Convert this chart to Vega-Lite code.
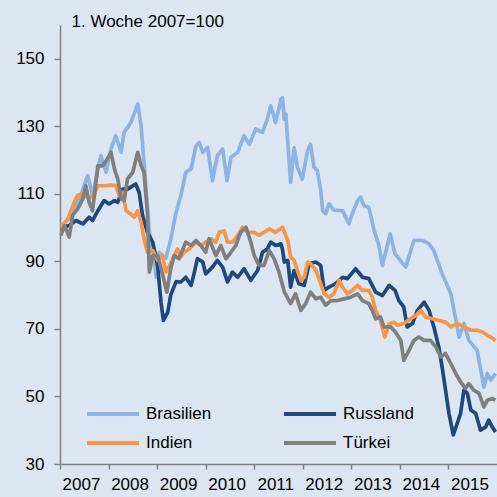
{
"$schema": "https://vega.github.io/schema/vega-lite/v6.json",
"width": 437, "height": 439,
"autosize": "none",
"padding": {"left": 60, "top": 25, "right": 0, "bottom": 33},
"background": "#dce6f2",
"config": {"view": {"stroke": null}, "font": "Liberation Sans"},
"datasets": {
"d": [
{"s":"Brasilien","t":2007.02,"v":100.6},{"s":"Brasilien","t":2007.19,"v":102.6},{"s":"Brasilien","t":2007.43,"v":109.5},{"s":"Brasilien","t":2007.57,"v":115.4},{"s":"Brasilien","t":2007.67,"v":109.5},{"s":"Brasilien","t":2007.84,"v":121.3},{"s":"Brasilien","t":2007.95,"v":116.4},{"s":"Brasilien","t":2008.05,"v":123.3},{"s":"Brasilien","t":2008.15,"v":127.2},{"s":"Brasilien","t":2008.26,"v":122.3},{"s":"Brasilien","t":2008.32,"v":128.2},{"s":"Brasilien","t":2008.46,"v":131.1},{"s":"Brasilien","t":2008.6,"v":136.6},{"s":"Brasilien","t":2008.67,"v":130.1},{"s":"Brasilien","t":2008.73,"v":119.3},{"s":"Brasilien","t":2008.84,"v":98.6},{"s":"Brasilien","t":2008.94,"v":90.9},{"s":"Brasilien","t":2008.98,"v":85.3},{"s":"Brasilien","t":2009.04,"v":92.7},{"s":"Brasilien","t":2009.18,"v":90.9},{"s":"Brasilien","t":2009.28,"v":96.5},{"s":"Brasilien","t":2009.39,"v":104.5},{"s":"Brasilien","t":2009.49,"v":109.5},{"s":"Brasilien","t":2009.59,"v":116.4},{"s":"Brasilien","t":2009.7,"v":117.4},{"s":"Brasilien","t":2009.8,"v":124.2},{"s":"Brasilien","t":2009.87,"v":125.2},{"s":"Brasilien","t":2009.94,"v":122.3},{"s":"Brasilien","t":2010.04,"v":123.7},{"s":"Brasilien","t":2010.14,"v":113.9},{"s":"Brasilien","t":2010.24,"v":121.3},{"s":"Brasilien","t":2010.35,"v":123.3},{"s":"Brasilien","t":2010.44,"v":113.9},{"s":"Brasilien","t":2010.52,"v":120.8},{"s":"Brasilien","t":2010.66,"v":122.3},{"s":"Brasilien","t":2010.79,"v":127.2},{"s":"Brasilien","t":2010.9,"v":124.7},{"s":"Brasilien","t":2011.03,"v":129.2},{"s":"Brasilien","t":2011.17,"v":128.2},{"s":"Brasilien","t":2011.27,"v":132.1},{"s":"Brasilien","t":2011.34,"v":136.1},{"s":"Brasilien","t":2011.44,"v":131.1},{"s":"Brasilien","t":2011.55,"v":138.0},{"s":"Brasilien","t":2011.58,"v":138.5},{"s":"Brasilien","t":2011.62,"v":132.1},{"s":"Brasilien","t":2011.65,"v":133.6},{"s":"Brasilien","t":2011.75,"v":113.4},{"s":"Brasilien","t":2011.82,"v":123.7},{"s":"Brasilien","t":2011.89,"v":117.9},{"s":"Brasilien","t":2011.99,"v":114.4},{"s":"Brasilien","t":2012.1,"v":122.8},{"s":"Brasilien","t":2012.16,"v":124.7},{"s":"Brasilien","t":2012.23,"v":117.9},{"s":"Brasilien","t":2012.3,"v":116.9},{"s":"Brasilien","t":2012.37,"v":111.0},{"s":"Brasilien","t":2012.41,"v":105.0},{"s":"Brasilien","t":2012.47,"v":104.1},{"s":"Brasilien","t":2012.54,"v":107.0},{"s":"Brasilien","t":2012.64,"v":105.2},{"s":"Brasilien","t":2012.82,"v":105.0},{"s":"Brasilien","t":2012.95,"v":101.1},{"s":"Brasilien","t":2013.02,"v":104.1},{"s":"Brasilien","t":2013.13,"v":108.0},{"s":"Brasilien","t":2013.19,"v":109.0},{"s":"Brasilien","t":2013.26,"v":106.5},{"s":"Brasilien","t":2013.36,"v":106.0},{"s":"Brasilien","t":2013.47,"v":99.1},{"s":"Brasilien","t":2013.57,"v":94.7},{"s":"Brasilien","t":2013.64,"v":88.8},{"s":"Brasilien","t":2013.8,"v":98.2},{"s":"Brasilien","t":2013.9,"v":92.2},{"s":"Brasilien","t":2014.12,"v":88.3},{"s":"Brasilien","t":2014.29,"v":96.2},{"s":"Brasilien","t":2014.46,"v":96.2},{"s":"Brasilien","t":2014.6,"v":95.2},{"s":"Brasilien","t":2014.7,"v":93.2},{"s":"Brasilien","t":2014.87,"v":86.3},{"s":"Brasilien","t":2015.05,"v":80.4},{"s":"Brasilien","t":2015.22,"v":67.6},{"s":"Brasilien","t":2015.32,"v":71.6},{"s":"Brasilien","t":2015.42,"v":66.6},{"s":"Brasilien","t":2015.59,"v":63.7},{"s":"Brasilien","t":2015.73,"v":52.8},{"s":"Brasilien","t":2015.8,"v":56.8},{"s":"Brasilien","t":2015.87,"v":54.8},{"s":"Brasilien","t":2015.97,"v":56.8},
{"s":"Russland","t":2007.02,"v":100.1},{"s":"Russland","t":2007.19,"v":100.6},{"s":"Russland","t":2007.33,"v":102.1},{"s":"Russland","t":2007.47,"v":101.1},{"s":"Russland","t":2007.6,"v":103.1},{"s":"Russland","t":2007.67,"v":102.1},{"s":"Russland","t":2007.78,"v":105.0},{"s":"Russland","t":2007.91,"v":108.0},{"s":"Russland","t":2008.01,"v":107.0},{"s":"Russland","t":2008.12,"v":108.0},{"s":"Russland","t":2008.19,"v":107.5},{"s":"Russland","t":2008.29,"v":111.4},{"s":"Russland","t":2008.39,"v":111.4},{"s":"Russland","t":2008.56,"v":112.9},{"s":"Russland","t":2008.63,"v":110.4},{"s":"Russland","t":2008.7,"v":103.6},{"s":"Russland","t":2008.8,"v":98.6},{"s":"Russland","t":2008.91,"v":95.7},{"s":"Russland","t":2009.01,"v":88.8},{"s":"Russland","t":2009.08,"v":77.9},{"s":"Russland","t":2009.13,"v":72.5},{"s":"Russland","t":2009.22,"v":75.0},{"s":"Russland","t":2009.28,"v":80.0},{"s":"Russland","t":2009.39,"v":84.0},{"s":"Russland","t":2009.49,"v":83.9},{"s":"Russland","t":2009.59,"v":85.3},{"s":"Russland","t":2009.7,"v":82.9},{"s":"Russland","t":2009.76,"v":86.3},{"s":"Russland","t":2009.83,"v":90.8},{"s":"Russland","t":2009.94,"v":89.8},{"s":"Russland","t":2010.0,"v":86.3},{"s":"Russland","t":2010.14,"v":88.3},{"s":"Russland","t":2010.24,"v":90.3},{"s":"Russland","t":2010.35,"v":88.3},{"s":"Russland","t":2010.45,"v":83.9},{"s":"Russland","t":2010.55,"v":86.8},{"s":"Russland","t":2010.66,"v":85.3},{"s":"Russland","t":2010.79,"v":87.8},{"s":"Russland","t":2010.93,"v":84.4},{"s":"Russland","t":2011.07,"v":87.3},{"s":"Russland","t":2011.17,"v":92.7},{"s":"Russland","t":2011.27,"v":93.7},{"s":"Russland","t":2011.34,"v":95.7},{"s":"Russland","t":2011.44,"v":94.7},{"s":"Russland","t":2011.55,"v":95.2},{"s":"Russland","t":2011.58,"v":93.7},{"s":"Russland","t":2011.62,"v":89.8},{"s":"Russland","t":2011.69,"v":90.3},{"s":"Russland","t":2011.75,"v":82.4},{"s":"Russland","t":2011.82,"v":87.3},{"s":"Russland","t":2011.92,"v":83.4},{"s":"Russland","t":2012.03,"v":82.9},{"s":"Russland","t":2012.13,"v":89.3},{"s":"Russland","t":2012.27,"v":89.8},{"s":"Russland","t":2012.37,"v":88.8},{"s":"Russland","t":2012.44,"v":81.4},{"s":"Russland","t":2012.54,"v":82.4},{"s":"Russland","t":2012.68,"v":83.4},{"s":"Russland","t":2012.82,"v":85.3},{"s":"Russland","t":2012.92,"v":84.9},{"s":"Russland","t":2013.09,"v":87.8},{"s":"Russland","t":2013.23,"v":85.3},{"s":"Russland","t":2013.36,"v":84.9},{"s":"Russland","t":2013.5,"v":80.9},{"s":"Russland","t":2013.64,"v":79.9},{"s":"Russland","t":2013.78,"v":82.9},{"s":"Russland","t":2013.9,"v":81.4},{"s":"Russland","t":2013.98,"v":78.4},{"s":"Russland","t":2014.08,"v":76.5},{"s":"Russland","t":2014.15,"v":70.6},{"s":"Russland","t":2014.26,"v":71.6},{"s":"Russland","t":2014.36,"v":75.5},{"s":"Russland","t":2014.5,"v":77.9},{"s":"Russland","t":2014.6,"v":75.5},{"s":"Russland","t":2014.7,"v":70.6},{"s":"Russland","t":2014.8,"v":64.7},{"s":"Russland","t":2014.87,"v":58.7},{"s":"Russland","t":2014.94,"v":51.9},{"s":"Russland","t":2015.01,"v":45.0},{"s":"Russland","t":2015.1,"v":38.6},{"s":"Russland","t":2015.18,"v":42.0},{"s":"Russland","t":2015.25,"v":45.0},{"s":"Russland","t":2015.32,"v":51.9},{"s":"Russland","t":2015.39,"v":50.9},{"s":"Russland","t":2015.46,"v":46.0},{"s":"Russland","t":2015.56,"v":45.0},{"s":"Russland","t":2015.66,"v":40.0},{"s":"Russland","t":2015.77,"v":41.0},{"s":"Russland","t":2015.83,"v":43.0},{"s":"Russland","t":2015.9,"v":41.0},{"s":"Russland","t":2015.97,"v":39.5},
{"s":"Indien","t":2007.02,"v":100.0},{"s":"Indien","t":2007.16,"v":102.6},{"s":"Indien","t":2007.29,"v":107.5},{"s":"Indien","t":2007.36,"v":109.5},{"s":"Indien","t":2007.47,"v":110.0},{"s":"Indien","t":2007.6,"v":108.5},{"s":"Indien","t":2007.71,"v":110.0},{"s":"Indien","t":2007.78,"v":112.4},{"s":"Indien","t":2007.91,"v":112.4},{"s":"Indien","t":2008.05,"v":112.6},{"s":"Indien","t":2008.15,"v":112.4},{"s":"Indien","t":2008.22,"v":109.5},{"s":"Indien","t":2008.29,"v":110.5},{"s":"Indien","t":2008.36,"v":105.0},{"s":"Indien","t":2008.46,"v":104.0},{"s":"Indien","t":2008.53,"v":103.1},{"s":"Indien","t":2008.6,"v":105.0},{"s":"Indien","t":2008.67,"v":101.6},{"s":"Indien","t":2008.73,"v":96.7},{"s":"Indien","t":2008.8,"v":92.7},{"s":"Indien","t":2008.91,"v":93.2},{"s":"Indien","t":2009.01,"v":90.3},{"s":"Indien","t":2009.11,"v":91.7},{"s":"Indien","t":2009.18,"v":86.8},{"s":"Indien","t":2009.26,"v":88.8},{"s":"Indien","t":2009.42,"v":93.7},{"s":"Indien","t":2009.49,"v":91.3},{"s":"Indien","t":2009.56,"v":92.7},{"s":"Indien","t":2009.66,"v":93.7},{"s":"Indien","t":2009.8,"v":95.7},{"s":"Indien","t":2009.9,"v":94.7},{"s":"Indien","t":2010.0,"v":95.7},{"s":"Indien","t":2010.11,"v":96.7},{"s":"Indien","t":2010.21,"v":95.7},{"s":"Indien","t":2010.28,"v":98.6},{"s":"Indien","t":2010.38,"v":99.1},{"s":"Indien","t":2010.45,"v":95.7},{"s":"Indien","t":2010.55,"v":95.7},{"s":"Indien","t":2010.66,"v":97.7},{"s":"Indien","t":2010.76,"v":100.1},{"s":"Indien","t":2010.86,"v":98.6},{"s":"Indien","t":2011.0,"v":98.6},{"s":"Indien","t":2011.1,"v":97.7},{"s":"Indien","t":2011.2,"v":98.6},{"s":"Indien","t":2011.31,"v":99.6},{"s":"Indien","t":2011.44,"v":98.6},{"s":"Indien","t":2011.58,"v":100.1},{"s":"Indien","t":2011.69,"v":96.2},{"s":"Indien","t":2011.75,"v":91.3},{"s":"Indien","t":2011.82,"v":90.3},{"s":"Indien","t":2011.89,"v":87.3},{"s":"Indien","t":2011.96,"v":84.4},{"s":"Indien","t":2012.03,"v":85.3},{"s":"Indien","t":2012.1,"v":89.8},{"s":"Indien","t":2012.16,"v":89.3},{"s":"Indien","t":2012.27,"v":87.3},{"s":"Indien","t":2012.37,"v":83.4},{"s":"Indien","t":2012.44,"v":80.4},{"s":"Indien","t":2012.54,"v":79.4},{"s":"Indien","t":2012.64,"v":80.4},{"s":"Indien","t":2012.75,"v":84.4},{"s":"Indien","t":2012.82,"v":82.4},{"s":"Indien","t":2012.92,"v":80.4},{"s":"Indien","t":2013.02,"v":81.4},{"s":"Indien","t":2013.13,"v":82.9},{"s":"Indien","t":2013.23,"v":81.4},{"s":"Indien","t":2013.36,"v":81.4},{"s":"Indien","t":2013.43,"v":79.4},{"s":"Indien","t":2013.5,"v":75.5},{"s":"Indien","t":2013.6,"v":72.5},{"s":"Indien","t":2013.69,"v":67.6},{"s":"Indien","t":2013.78,"v":71.6},{"s":"Indien","t":2013.88,"v":72.0},{"s":"Indien","t":2013.95,"v":71.1},{"s":"Indien","t":2014.08,"v":71.6},{"s":"Indien","t":2014.22,"v":73.0},{"s":"Indien","t":2014.33,"v":74.0},{"s":"Indien","t":2014.43,"v":75.5},{"s":"Indien","t":2014.53,"v":73.5},{"s":"Indien","t":2014.67,"v":73.0},{"s":"Indien","t":2014.8,"v":72.5},{"s":"Indien","t":2014.94,"v":72.0},{"s":"Indien","t":2015.05,"v":70.6},{"s":"Indien","t":2015.18,"v":71.6},{"s":"Indien","t":2015.32,"v":70.6},{"s":"Indien","t":2015.46,"v":69.6},{"s":"Indien","t":2015.59,"v":69.6},{"s":"Indien","t":2015.7,"v":69.1},{"s":"Indien","t":2015.8,"v":68.1},{"s":"Indien","t":2015.87,"v":67.6},{"s":"Indien","t":2015.97,"v":66.6},
{"s":"Türkei","t":2007.02,"v":97.7},{"s":"Türkei","t":2007.09,"v":100.6},{"s":"Türkei","t":2007.19,"v":97.2},{"s":"Türkei","t":2007.26,"v":103.6},{"s":"Türkei","t":2007.36,"v":105.5},{"s":"Türkei","t":2007.47,"v":108.5},{"s":"Türkei","t":2007.53,"v":112.4},{"s":"Türkei","t":2007.6,"v":107.5},{"s":"Türkei","t":2007.67,"v":105.0},{"s":"Türkei","t":2007.74,"v":113.4},{"s":"Türkei","t":2007.78,"v":118.3},{"s":"Türkei","t":2007.88,"v":118.3},{"s":"Türkei","t":2007.95,"v":119.8},{"s":"Türkei","t":2008.05,"v":122.3},{"s":"Türkei","t":2008.12,"v":117.4},{"s":"Türkei","t":2008.19,"v":114.4},{"s":"Türkei","t":2008.26,"v":108.5},{"s":"Türkei","t":2008.32,"v":108.0},{"s":"Türkei","t":2008.39,"v":114.4},{"s":"Türkei","t":2008.5,"v":116.4},{"s":"Türkei","t":2008.6,"v":122.3},{"s":"Türkei","t":2008.67,"v":118.3},{"s":"Türkei","t":2008.73,"v":116.4},{"s":"Türkei","t":2008.8,"v":104.5},{"s":"Türkei","t":2008.84,"v":86.8},{"s":"Türkei","t":2008.91,"v":91.7},{"s":"Türkei","t":2009.01,"v":91.7},{"s":"Türkei","t":2009.11,"v":86.3},{"s":"Türkei","t":2009.2,"v":80.9},{"s":"Türkei","t":2009.28,"v":87.8},{"s":"Türkei","t":2009.35,"v":91.7},{"s":"Türkei","t":2009.45,"v":90.8},{"s":"Türkei","t":2009.59,"v":95.7},{"s":"Türkei","t":2009.7,"v":94.7},{"s":"Türkei","t":2009.8,"v":96.2},{"s":"Türkei","t":2009.9,"v":94.7},{"s":"Türkei","t":2010.0,"v":92.7},{"s":"Türkei","t":2010.07,"v":96.7},{"s":"Türkei","t":2010.21,"v":91.7},{"s":"Türkei","t":2010.31,"v":94.7},{"s":"Türkei","t":2010.42,"v":90.8},{"s":"Türkei","t":2010.52,"v":92.7},{"s":"Türkei","t":2010.62,"v":94.7},{"s":"Türkei","t":2010.72,"v":98.6},{"s":"Türkei","t":2010.83,"v":100.1},{"s":"Türkei","t":2010.93,"v":95.7},{"s":"Türkei","t":2011.0,"v":91.7},{"s":"Türkei","t":2011.1,"v":88.8},{"s":"Türkei","t":2011.2,"v":88.8},{"s":"Türkei","t":2011.31,"v":93.2},{"s":"Türkei","t":2011.41,"v":90.8},{"s":"Türkei","t":2011.51,"v":86.8},{"s":"Türkei","t":2011.62,"v":81.0},{"s":"Türkei","t":2011.75,"v":77.5},{"s":"Türkei","t":2011.85,"v":80.4},{"s":"Türkei","t":2011.96,"v":75.5},{"s":"Türkei","t":2012.06,"v":77.5},{"s":"Türkei","t":2012.16,"v":80.9},{"s":"Türkei","t":2012.27,"v":78.9},{"s":"Türkei","t":2012.37,"v":79.4},{"s":"Türkei","t":2012.47,"v":77.0},{"s":"Türkei","t":2012.58,"v":78.4},{"s":"Türkei","t":2012.71,"v":78.4},{"s":"Türkei","t":2012.85,"v":78.9},{"s":"Türkei","t":2012.99,"v":79.4},{"s":"Türkei","t":2013.13,"v":80.4},{"s":"Türkei","t":2013.23,"v":78.4},{"s":"Türkei","t":2013.36,"v":77.5},{"s":"Türkei","t":2013.43,"v":75.5},{"s":"Türkei","t":2013.5,"v":73.0},{"s":"Türkei","t":2013.6,"v":73.5},{"s":"Türkei","t":2013.67,"v":70.6},{"s":"Türkei","t":2013.81,"v":70.6},{"s":"Türkei","t":2013.91,"v":69.1},{"s":"Türkei","t":2014.02,"v":66.6},{"s":"Türkei","t":2014.08,"v":60.7},{"s":"Türkei","t":2014.19,"v":63.7},{"s":"Türkei","t":2014.29,"v":66.6},{"s":"Türkei","t":2014.39,"v":67.6},{"s":"Türkei","t":2014.5,"v":66.6},{"s":"Türkei","t":2014.63,"v":66.6},{"s":"Türkei","t":2014.74,"v":64.7},{"s":"Türkei","t":2014.84,"v":61.7},{"s":"Türkei","t":2014.94,"v":62.7},{"s":"Türkei","t":2015.05,"v":59.7},{"s":"Türkei","t":2015.15,"v":56.8},{"s":"Türkei","t":2015.25,"v":54.3},{"s":"Türkei","t":2015.35,"v":52.4},{"s":"Türkei","t":2015.42,"v":53.8},{"s":"Türkei","t":2015.52,"v":51.9},{"s":"Türkei","t":2015.63,"v":50.9},{"s":"Türkei","t":2015.73,"v":46.9},{"s":"Türkei","t":2015.8,"v":48.9},{"s":"Türkei","t":2015.9,"v":49.4},{"s":"Türkei","t":2015.97,"v":48.9}
]
},
"data": {"name": "d"},
"mark": {"type": "line", "strokeWidth": 3.7, "strokeJoin": "round"},
"encoding": {
  "x": {"field": "t", "type": "quantitative",
    "scale": {"domain": [2007, 2016], "nice": false, "zero": false},
    "axis": {"values": [2007,2008,2009,2010,2011,2012,2013,2014,2015], "format": "d", "title": null,
      "labelOffset": 21, "labelFontSize": 17, "labelColor": "black", "labelPadding": 7,
      "tickSize": 5, "domainColor": "#808080", "tickColor": "#808080", "domainWidth": 1.5, "tickWidth": 1.5,
      "grid": false, "labelFlush": false, "labelOverlap": false}},
  "y": {"field": "v", "type": "quantitative",
    "scale": {"domain": [30, 160], "nice": false, "zero": false},
    "axis": {"values": [30,50,70,90,110,130,150], "title": "1. Woche 2007=100",
      "titleAngle": 0, "titleAlign": "left", "titleBaseline": "alphabetic", "titleX": 11, "titleY": 1,
      "titleFontSize": 17, "titleFontWeight": "normal", "titleColor": "black",
      "labelFontSize": 17, "labelColor": "black", "labelPadding": 10, "tickSize": 6,
      "domainColor": "#808080", "tickColor": "#808080", "domainWidth": 1.5, "tickWidth": 1.5,
      "grid": false, "labelFlush": false, "labelOverlap": false}},
  "color": {"field": "s", "type": "nominal",
    "scale": {"domain": ["Brasilien", "Indien", "Russland", "Türkei"], "range": ["#8db3e2", "#f79646", "#1f497d", "#7f7f7f"]},
    "legend": {"title": null, "orient": "none", "legendX": 38, "legendY": 374, "columns": 2,
      "symbolType": "M-2,0H2", "symbolSize": 676, "symbolStrokeWidth": 4,
      "labelFontSize": 17, "labelColor": "black", "labelOffset": 18,
      "columnPadding": 64, "rowPadding": 6, "padding": 0}}
}
}
